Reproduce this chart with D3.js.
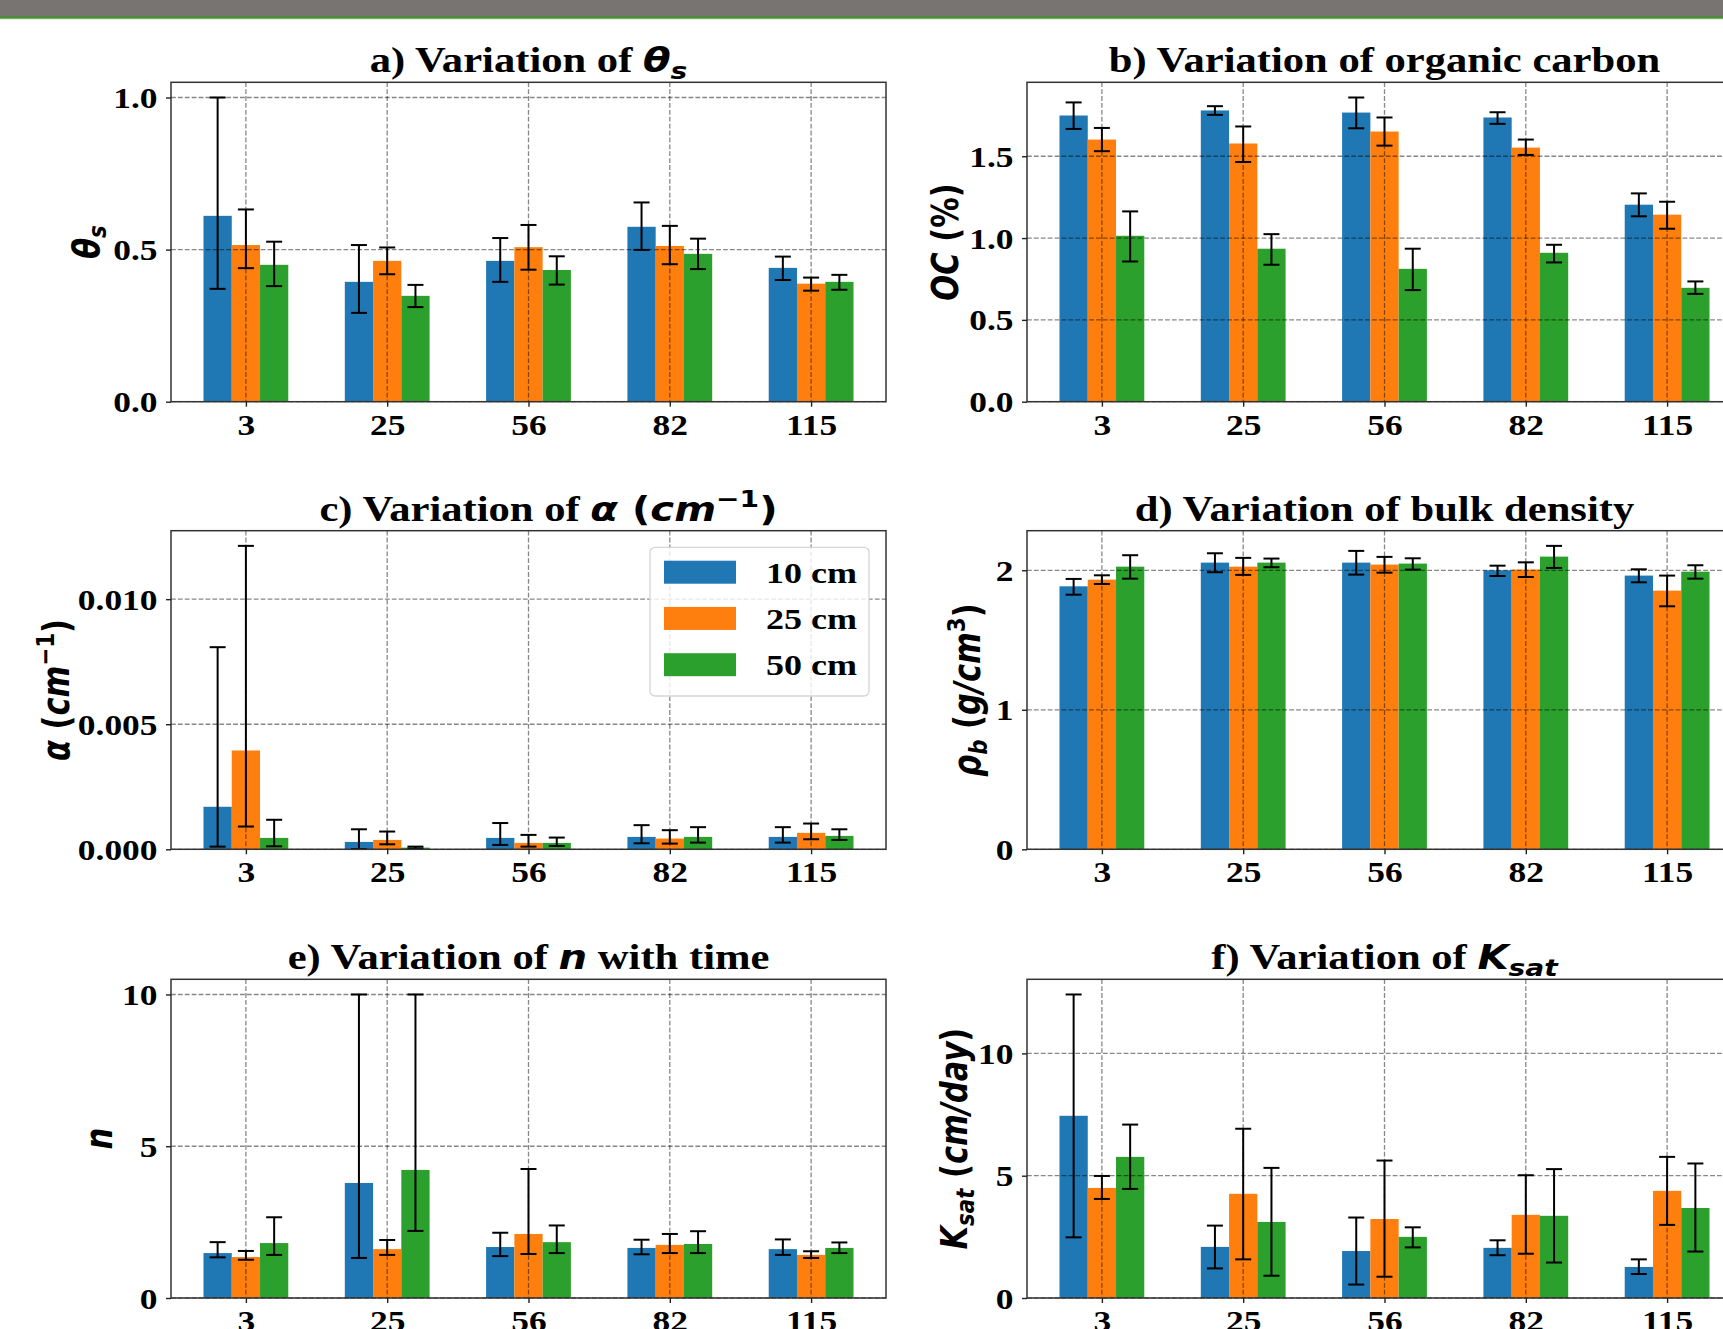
<!DOCTYPE html>
<html>
<head>
<meta charset="utf-8">
<title>Soil hydraulic properties</title>
<script src="https://d3js.org/d3.v7.min.js"></script>
<style>
    body {margin: 0; background: #fff;}
    svg {display: block;}
</style>
</head>
<body>
<script>
// sampling times (x categories) and the three depths
const times = ["3", "25", "56", "82", "115"];
const depths = ["10 cm", "25 cm", "50 cm"];
const colors = ["#1f77b4", "#ff7f0e", "#2ca02c"];

// a) theta_s : one row per depth, one value per time
const thetaMean = [[0.611, 0.394, 0.463, 0.575, 0.440], [0.515, 0.463, 0.508, 0.512, 0.388], [0.450, 0.348, 0.433, 0.486, 0.394]];
const thetaLow  = [[0.371, 0.292, 0.394, 0.499, 0.400], [0.439, 0.419, 0.434, 0.452, 0.365], [0.380, 0.311, 0.385, 0.436, 0.368]];
const thetaHigh = [[1.000, 0.515, 0.538, 0.655, 0.477], [0.632, 0.507, 0.581, 0.578, 0.408], [0.526, 0.384, 0.478, 0.536, 0.417]];
const thetaTicks = [0, 0.5, 1.0];

// b) organic carbon (%)
const ocMean = [[1.749, 1.780, 1.767, 1.737, 1.204], [1.602, 1.578, 1.651, 1.553, 1.143], [1.014, 0.935, 0.812, 0.910, 0.696]];
const ocLow  = [[1.667, 1.753, 1.671, 1.698, 1.133], [1.531, 1.465, 1.565, 1.508, 1.057], [0.857, 0.837, 0.682, 0.851, 0.659]];
const ocHigh = [[1.829, 1.806, 1.859, 1.769, 1.273], [1.673, 1.682, 1.737, 1.602, 1.222], [1.163, 1.024, 0.935, 0.959, 0.735]];
const ocTicks = [0, 0.5, 1.0, 1.5];

// c) alpha (1/cm)
const alphaMean = [[0.00170, 0.000295, 0.000456, 0.000496, 0.000496], [0.00395, 0.000375, 0.000255, 0.000429, 0.000657], [0.000456, 0.000067, 0.000255, 0.000496, 0.000536]];
const alphaLow  = [[0.000107, 0.00001, 0.000174, 0.000241, 0.000268], [0.00091, 0.00020, 0.000107, 0.000228, 0.000402], [0.00012, 0.00003, 0.000134, 0.000268, 0.000375]];
const alphaHigh = [[0.00808, 0.00080, 0.00105, 0.000965, 0.000885], [0.01213, 0.00071, 0.000576, 0.000764, 0.00103], [0.00118, 0.000107, 0.000469, 0.000885, 0.00080]];
const alphaTicks = [0, 0.005, 0.010];

// d) bulk density (g/cm3)
const rhoMean = [[1.885, 2.055, 2.055, 2.000, 1.962], [1.933, 2.026, 2.041, 2.005, 1.854], [2.026, 2.055, 2.048, 2.098, 1.990]];
const rhoLow  = [[1.825, 1.986, 1.969, 1.959, 1.914], [1.902, 1.967, 1.983, 1.952, 1.742], [1.940, 2.022, 2.005, 2.017, 1.940]];
const rhoHigh = [[1.938, 2.122, 2.139, 2.033, 2.007], [1.964, 2.089, 2.096, 2.057, 1.962], [2.108, 2.084, 2.086, 2.175, 2.036]];
const rhoTicks = [0, 1, 2];

// e) n
const nMean = [[1.48, 3.79, 1.68, 1.65, 1.61], [1.35, 1.61, 2.11, 1.75, 1.42], [1.81, 4.22, 1.84, 1.78, 1.65]];
const nLow  = [[1.34, 1.32, 1.38, 1.44, 1.42], [1.26, 1.42, 1.45, 1.48, 1.32], [1.42, 2.21, 1.48, 1.48, 1.48]];
const nHigh = [[1.84, 10.0, 2.15, 1.92, 1.93], [1.55, 1.91, 4.25, 2.11, 1.54], [2.66, 10.0, 2.39, 2.20, 1.83]];
const nTicks = [0, 5, 10];

// f) Ksat (cm/day)
const ksatMean = [[7.45, 2.09, 1.92, 2.05, 1.27], [4.50, 4.26, 3.23, 3.40, 4.38], [5.77, 3.11, 2.50, 3.36, 3.68]];
const ksatLow  = [[2.48, 1.21, 0.55, 1.75, 0.98], [4.05, 1.58, 0.87, 1.81, 2.99], [4.46, 0.91, 2.07, 1.45, 1.90]];
const ksatHigh = [[12.41, 2.96, 3.29, 2.36, 1.58], [4.99, 6.92, 5.62, 5.02, 5.77], [7.09, 5.32, 2.89, 5.27, 5.50]];
const ksatTicks = [0, 5, 10];

const W = 1723, H = 1329;
const SX = 1.2;            // the source picture is stretched sideways, text too
const serif = "Liberation Serif, Times New Roman, serif";
const sans = "DejaVu Sans, sans-serif";

const svg = d3.select("body").append("svg")
    .attr("width", W)
    .attr("height", H);

// header strip
svg.append("rect").attr("x", 0).attr("y", 0).attr("width", W).attr("height", 16).attr("fill", "#787472");
svg.append("rect").attr("x", 0).attr("y", 16).attr("width", W).attr("height", 2).attr("fill", "#4f8a3c");
svg.append("rect").attr("x", 0).attr("y", 18).attr("width", W).attr("height", 1.2).attr("fill", "#7aae60");

// axes boxes
const colX = [171, 1027];
const axW = 715;
const rowY = [[82.3, 401.7], [530.7, 849.3], [979.3, 1298]];

// write text pieces, math bits in DejaVu Sans bold italic
function rich(text, parts, fs, mfs) {
    let shift = 0;
    parts.forEach(function(p) {
        let size = p.m ? mfs : fs;
        let want = 0;
        if (p.sub) { size *= 0.7; want = 0.2 * mfs; }
        if (p.sup) { size *= 0.7; want = -0.42 * mfs; }
        const ts = text.append("tspan").text(p.t)
            .attr("font-size", size)
            .attr("dy", want - shift);
        shift = want;
        if (p.m) {
            ts.attr("font-family", sans).attr("font-style", p.up ? "normal" : "italic");
        }
    });
}

const panels = [
    {col: 0, row: 0, mean: thetaMean, low: thetaLow, high: thetaHigh, ticks: thetaTicks, fmt: ".1f", labX: 99, titleDx: 0,
     title: [{t: "a) Variation of "}, {t: "θ", m: 1}, {t: "s", m: 1, sub: 1}],
     ylab: [{t: "θ", m: 1}, {t: "s", m: 1, sub: 1}]},
    {col: 1, row: 0, mean: ocMean, low: ocLow, high: ocHigh, ticks: ocTicks, fmt: ".1f", labX: 958, titleDx: 0,
     title: [{t: "b) Variation of organic carbon"}],
     ylab: [{t: "OC", m: 1}, {t: " (%)", m: 1, up: 1}]},
    {col: 0, row: 1, mean: alphaMean, low: alphaLow, high: alphaHigh, ticks: alphaTicks, fmt: ".3f", labX: 69, titleDx: 20, legend: true,
     title: [{t: "c) Variation of "}, {t: "α", m: 1}, {t: " (", m: 1, up: 1}, {t: "cm", m: 1}, {t: "−1", m: 1, up: 1, sup: 1}, {t: ")", m: 1, up: 1}],
     ylab: [{t: "α", m: 1}, {t: " (", m: 1, up: 1}, {t: "cm", m: 1}, {t: "−1", m: 1, up: 1, sup: 1}, {t: ")", m: 1, up: 1}]},
    {col: 1, row: 1, mean: rhoMean, low: rhoLow, high: rhoHigh, ticks: rhoTicks, fmt: "d", labX: 980, titleDx: 0,
     title: [{t: "d) Variation of bulk density"}],
     ylab: [{t: "ρ", m: 1}, {t: "b", m: 1, sub: 1}, {t: " (", m: 1, up: 1}, {t: "g/cm", m: 1}, {t: "3", m: 1, up: 1, sup: 1}, {t: ")", m: 1, up: 1}]},
    {col: 0, row: 2, mean: nMean, low: nLow, high: nHigh, ticks: nTicks, fmt: "d", labX: 112, titleDx: 0,
     title: [{t: "e) Variation of "}, {t: "n", m: 1}, {t: " with time"}],
     ylab: [{t: "n", m: 1}]},
    {col: 1, row: 2, mean: ksatMean, low: ksatLow, high: ksatHigh, ticks: ksatTicks, fmt: "d", labX: 967, titleDx: 0,
     title: [{t: "f) Variation of "}, {t: "K", m: 1}, {t: "sat", m: 1, sub: 1}],
     ylab: [{t: "K", m: 1}, {t: "sat", m: 1, sub: 1}, {t: " (", m: 1, up: 1}, {t: "cm/day", m: 1}, {t: ")", m: 1, up: 1}]}
];

panels.forEach(drawPanel);

function drawPanel(p) {
    const x0 = colX[p.col], x1 = x0 + axW;
    const y0 = rowY[p.row][0], y1 = rowY[p.row][1];

    // categories sit at 0..4, bars 0.2 wide, matplotlib-like 5% margins
    const x = d3.scaleLinear().domain([-0.53, times.length - 1 + 0.53]).range([x0, x1]);
    const ymax = d3.max(p.high.flat()) * 1.05;
    const y = d3.scaleLinear().domain([0, ymax]).range([y1, y0]);
    const bw = x(0.2) - x(0);

    const g = svg.append("g");

    // bars
    p.mean.forEach(function(row, s) {
        g.selectAll(null).data(row).enter().append("rect")
            .attr("x", (d, i) => x(i + (s - 1) * 0.2) - bw / 2)
            .attr("y", d => y(d))
            .attr("width", bw)
            .attr("height", d => y1 - y(d))
            .attr("fill", colors[s]);
    });

    // dashed grid on top of bars
    const grid = g.append("g")
        .attr("stroke", "#000")
        .attr("stroke-opacity", 0.47)
        .attr("stroke-width", 1.3)
        .attr("stroke-dasharray", "4.8,2.1");
    grid.selectAll(null).data(d3.range(times.length)).enter().append("line")
        .attr("x1", i => x(i)).attr("x2", i => x(i))
        .attr("y1", y0).attr("y2", y1);
    grid.selectAll(null).data(p.ticks).enter().append("line")
        .attr("x1", x0).attr("x2", x1)
        .attr("y1", d => y(d)).attr("y2", d => y(d));

    // error bars
    const eb = g.append("g").attr("stroke", "#000").attr("stroke-width", 2);
    p.mean.forEach(function(row, s) {
        row.forEach(function(d, i) {
            const cx = x(i + (s - 1) * 0.2);
            const lo = y(p.low[s][i]), hi = y(p.high[s][i]);
            eb.append("line").attr("x1", cx).attr("x2", cx).attr("y1", lo).attr("y2", hi);
            eb.append("line").attr("x1", cx - 8).attr("x2", cx + 8).attr("y1", lo).attr("y2", lo);
            eb.append("line").attr("x1", cx - 8).attr("x2", cx + 8).attr("y1", hi).attr("y2", hi);
        });
    });

    // frame
    g.append("rect")
        .attr("x", x0).attr("y", y0)
        .attr("width", x1 - x0).attr("height", y1 - y0)
        .attr("fill", "none")
        .attr("stroke", "#333")
        .attr("stroke-width", 1.5);

    // x axis
    const ax = svg.append("g")
        .attr("transform", `translate(0,${y1})`)
        .call(d3.axisBottom(x).tickValues(d3.range(times.length)).tickFormat(i => times[i]).tickSize(5).tickSizeOuter(0));
    ax.attr("font-size", null).attr("font-family", null);
    ax.select(".domain").remove();
    ax.selectAll(".tick line").attr("stroke", "#222").attr("stroke-width", 1.4);
    ax.selectAll(".tick text")
        .attr("font-family", serif).attr("font-weight", "bold").attr("font-size", 29.5)
        .attr("fill", "#000")
        .attr("y", 33).attr("dy", 0)
        .attr("transform", `scale(${SX},1)`);

    // y axis
    const ay = svg.append("g")
        .attr("transform", `translate(${x0},0)`)
        .call(d3.axisLeft(y).tickValues(p.ticks).tickFormat(d3.format(p.fmt)).tickSize(5).tickSizeOuter(0));
    ay.attr("font-size", null).attr("font-family", null);
    ay.select(".domain").remove();
    ay.selectAll(".tick line").attr("stroke", "#222").attr("stroke-width", 1.4);
    ay.selectAll(".tick text")
        .attr("font-family", serif).attr("font-weight", "bold").attr("font-size", 29.5)
        .attr("fill", "#000")
        .attr("x", -13.5 / SX).attr("dy", "0.34em")
        .attr("transform", `scale(${SX},1)`);

    // title
    const tt = svg.append("g")
        .attr("transform", `translate(${(x0 + x1) / 2 + p.titleDx},${y0 - 10}) scale(${SX},1)`)
        .append("text")
        .attr("text-anchor", "middle")
        .attr("font-family", serif)
        .attr("font-weight", "bold");
    rich(tt, p.title, 35.5, 33.5);

    // y label
    const yl = svg.append("g")
        .attr("transform", `translate(${p.labX},${(y0 + y1) / 2}) scale(${SX},1) rotate(-90)`)
        .append("text")
        .attr("text-anchor", "middle")
        .attr("font-family", sans)
        .attr("font-weight", "bold");
    rich(yl, p.ylab, 30.5, 30.5);

    if (p.legend) drawLegend();
}

function drawLegend() {
    const lg = svg.append("g");
    lg.append("rect")
        .attr("x", 650).attr("y", 547.3)
        .attr("width", 219).attr("height", 148.7)
        .attr("rx", 5)
        .attr("fill", "#fff").attr("fill-opacity", 0.8)
        .attr("stroke", "#d6d6d6").attr("stroke-width", 1.3);
    const item = lg.selectAll(null).data(depths).enter().append("g")
        .attr("transform", (d, i) => `translate(664,${572.2 + i * 46.25})`);
    item.append("rect")
        .attr("x", 0).attr("y", -11.5)
        .attr("width", 72).attr("height", 23)
        .attr("fill", (d, i) => colors[i]);
    item.append("g")
        .attr("transform", `translate(102,10.5) scale(${SX},1)`)
        .append("text")
        .attr("font-family", serif).attr("font-weight", "bold").attr("font-size", 30)
        .text(d => d);
}
</script>
</body>
</html>
